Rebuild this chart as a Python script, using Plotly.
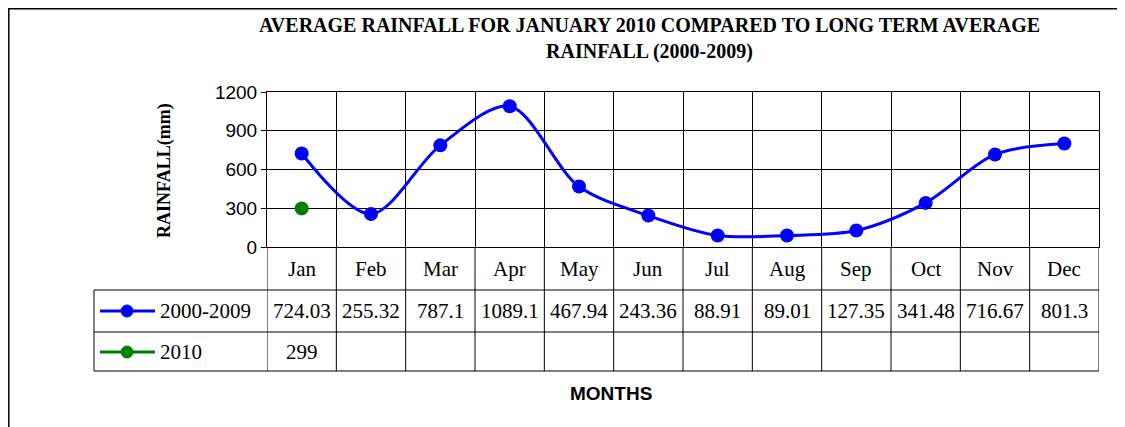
import plotly.graph_objects as go

# ── Data ──────────────────────────────────────────────────────────────────────
MONTHS = ["Jan", "Feb", "Mar", "Apr", "May", "Jun",
          "Jul", "Aug", "Sep", "Oct", "Nov", "Dec"]
AVG_2000_2009 = [724.03, 255.32, 787.1, 1089.1, 467.94, 243.36,
                 88.91, 89.01, 127.35, 341.48, 716.67, 801.3]
RAIN_2010 = [299]
SERIES_NAMES = ["2000-2009", "2010"]
Y_TICKS = [0, 300, 600, 900, 1200]

BLUE  = "#0000FF"
GREEN = "#008000"
W, H = 1125, 427
OFF = 8          # page body margin the figure sits inside


def py(pixel_y):
    """Pixel row in the target picture -> paper y."""
    return 1 - (pixel_y - OFF) / H


def px_(pixel_x):
    """Pixel column in the target picture -> paper x."""
    return (pixel_x - OFF) / W


# ── Layout geometry (pixels in the target picture) ───────────────────────────
PLOT_L, PLOT_R = 267, 1099
PLOT_T, PLOT_B = 92, 247
ROW1_T, ROW2_T, TABLE_B = 290, 332, 371
TABLE_L = 94

xpos = [i + 0.5 for i in range(len(MONTHS))]

fig = go.Figure()
fig.add_trace(go.Scatter(
    x=xpos, y=AVG_2000_2009, mode="lines+markers", name=SERIES_NAMES[0],
    line=dict(color=BLUE, width=3, shape="spline", smoothing=0.9),
    marker=dict(color=BLUE, size=14), cliponaxis=False,
))
fig.add_trace(go.Scatter(
    x=xpos[:len(RAIN_2010)], y=RAIN_2010, mode="lines+markers",
    name=SERIES_NAMES[1],
    line=dict(color=GREEN, width=3), marker=dict(color=GREEN, size=14),
    cliponaxis=False,
))

shapes = []
# outer chart border (left and top edges are visible)
shapes.append(dict(type="rect", xref="paper", yref="paper",
                   x0=0.8 / W, x1=1.2, y0=-0.2, y1=1 - 0.8 / H,
                   line=dict(color="black", width=1.5)))
# vertical table lines at category boundaries
for i in range(len(MONTHS) + 1):
    shapes.append(dict(type="line", xref="x", yref="paper",
                       x0=i, x1=i, y0=py(TABLE_B), y1=py(PLOT_B),
                       line=dict(color="black", width=1)))
# horizontal table lines
for y in (ROW1_T, ROW2_T, TABLE_B):
    shapes.append(dict(type="line", xref="paper", yref="paper",
                       x0=px_(TABLE_L), x1=px_(PLOT_R), y0=py(y), y1=py(y),
                       line=dict(color="black", width=1)))
shapes.append(dict(type="line", xref="paper", yref="paper",
                   x0=px_(TABLE_L), x1=px_(TABLE_L),
                   y0=py(TABLE_B), y1=py(ROW1_T),
                   line=dict(color="black", width=1)))

annotations = []
serif = "Liberation Serif, Times New Roman, serif"
cell_font = dict(family=serif, size=21, color="black")


def cell(text, xref, x, y, xanchor="center"):
    return dict(text=text, xref=xref, yref="paper", x=x, y=y,
                xanchor=xanchor, yanchor="middle", showarrow=False,
                font=cell_font)


# legend keys in the table
for name, color, yc in [(SERIES_NAMES[0], BLUE, 311), (SERIES_NAMES[1], GREEN, 352)]:
    shapes.append(dict(type="line", xref="paper", yref="paper",
                       x0=px_(100), x1=px_(155), y0=py(yc), y1=py(yc),
                       line=dict(color=color, width=3)))
    shapes.append(dict(type="circle", xref="paper", yref="paper",
                       x0=px_(121), x1=px_(133), y0=py(yc + 6), y1=py(yc - 6),
                       fillcolor=color, line=dict(color=color, width=1)))
    annotations.append(cell(name, "paper", px_(158), py(yc), "left"))

# month labels and values
for i, m in enumerate(MONTHS):
    annotations.append(cell(m, "x", xpos[i], py(269)))
    annotations.append(cell(str(AVG_2000_2009[i]), "x", xpos[i], py(311)))
for i, v in enumerate(RAIN_2010):
    annotations.append(cell(str(v), "x", xpos[i], py(352)))

# titles
annotations.append(dict(
    text="<b>AVERAGE RAINFALL FOR JANUARY 2010 COMPARED TO LONG TERM AVERAGE"
         "<br>RAINFALL (2000-2009)</b>",
    xref="paper", yref="paper", x=px_(649), y=py(39),
    xanchor="center", yanchor="middle", showarrow=False,
    font=dict(family=serif, size=20, color="black")))
annotations.append(dict(text="<b>RAINFALL(mm)</b>", xref="paper", yref="paper",
                        x=px_(164), y=py(171), textangle=-90,
                        xanchor="center", yanchor="middle", showarrow=False,
                        font=dict(family=serif, size=18, color="black")))
annotations.append(dict(text="<b>MONTHS</b>", xref="paper", yref="paper",
                        x=px_(611), y=py(393), xanchor="center",
                        yanchor="middle", showarrow=False,
                        font=dict(family="Liberation Sans, Arial", size=19,
                                  color="black")))

fig.update_layout(
    width=W, height=H, margin=dict(l=0, r=0, t=0, b=0, autoexpand=False),
    paper_bgcolor="white", plot_bgcolor="white", showlegend=False,
    shapes=shapes, annotations=annotations,
    xaxis=dict(domain=[px_(PLOT_L), px_(PLOT_R)], range=[0, 12],
               tick0=0, dtick=1, showticklabels=False, ticks="",
               showgrid=True, gridcolor="black", gridwidth=1, automargin=False,
               zeroline=False, showline=True, linecolor="black", mirror=True),
    yaxis=dict(domain=[py(PLOT_B), py(PLOT_T)], range=[0, 1200],
               tickvals=Y_TICKS, ticks="outside", ticklen=5, tickcolor="black",
               showgrid=True, gridcolor="black", gridwidth=1, automargin=False,
               zeroline=False, showline=True, linecolor="black", mirror=True,
               tickfont=dict(family="Liberation Sans, Arial", size=19,
                             color="black")),
)

fig.write_html("out.html")
